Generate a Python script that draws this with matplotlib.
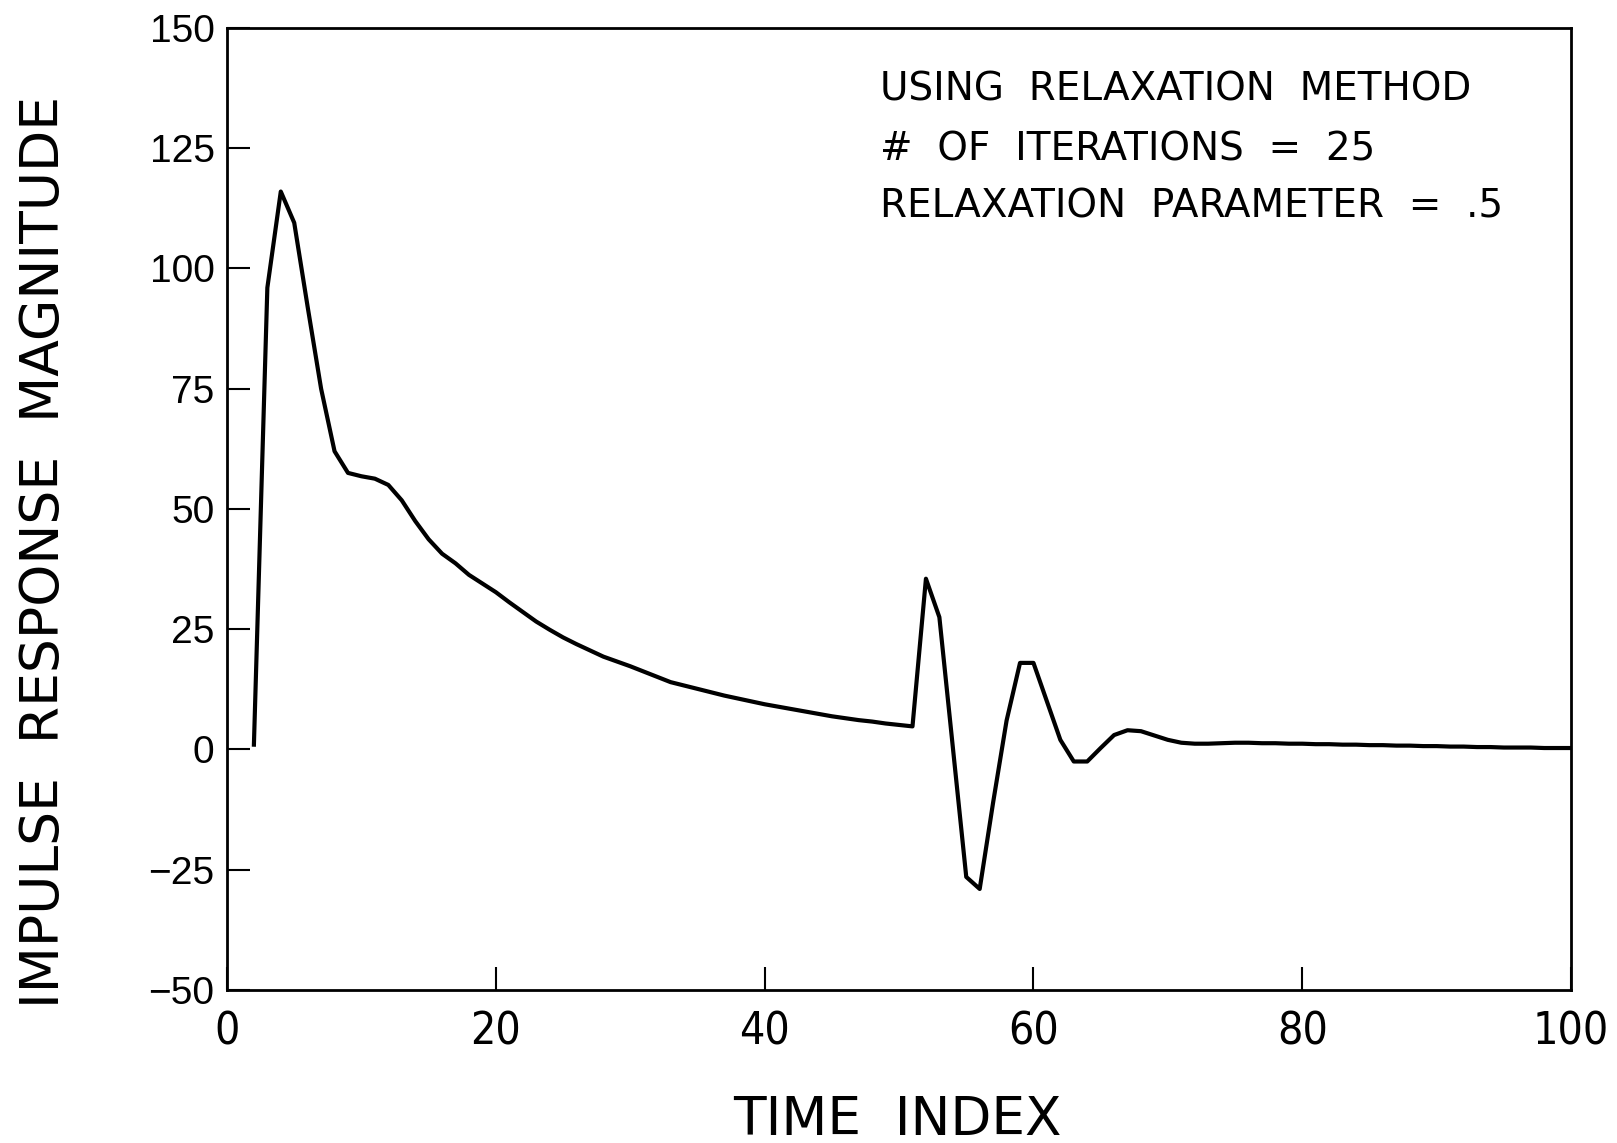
import matplotlib
matplotlib.use("Agg")
import matplotlib.pyplot as plt
from matplotlib import font_manager

# impulse response, one value per time index
time_index = list(range(2, 101))
magnitude = [
    1.0, 96, 116, 109.5, 92, 75, 62, 57.5, 56.8, 56.3,          # 2-11
    55, 51.8, 47.5, 43.7, 40.7, 38.7, 36.3, 34.5, 32.7, 30.6,   # 12-21
    28.6, 26.6, 24.9, 23.3, 21.9, 20.6, 19.3, 18.3, 17.3, 16.2, # 22-31
    15.1, 14.0, 13.3, 12.6, 11.9, 11.2, 10.6, 10.0, 9.4, 8.9,   # 32-41
    8.4, 7.9, 7.4, 6.9, 6.5, 6.1, 5.8, 5.4, 5.1, 4.8,           # 42-51
    35.5, 27.5, 0.5, -26.5, -29, -11, 6, 18, 18, 10,            # 52-61
    2, -2.5, -2.5, 0.3, 3, 4, 3.8, 2.9, 2.0, 1.4,               # 62-71
    1.2, 1.2, 1.3, 1.4, 1.4, 1.3, 1.3, 1.2, 1.2, 1.1,           # 72-81
    1.1, 1.0, 1.0, 0.9, 0.9, 0.8, 0.8, 0.7, 0.7, 0.6,           # 82-91
    0.6, 0.5, 0.5, 0.4, 0.4, 0.4, 0.3, 0.3, 0.3,                # 92-100
]

x_ticks = [0, 20, 40, 60, 80, 100]
y_ticks = [-50, -25, 0, 25, 50, 75, 100, 125, 150]
notes = [
    "USING  RELAXATION  METHOD",
    "#  OF  ITERATIONS  =  25",
    "RELAXATION  PARAMETER  =  .5",
]


def pick_narrow():
    for fam in ["Liberation Sans Narrow", "Arial Narrow"]:
        try:
            font_manager.findfont(fam, fallback_to_default=False)
            return dict(family=fam)
        except Exception:
            pass
    return dict(family="DejaVu Sans", stretch="condensed")


narrow = pick_narrow()
plain = dict(family="DejaVu Sans")
wide = dict(family=["Liberation Sans", "DejaVu Sans"])

fig = plt.figure(figsize=(16.17, 11.43), dpi=100)
ax = fig.add_axes([0.1404, 0.1339, 0.8312, 0.8416])

ax.plot(time_index, magnitude, color="black", lw=3.0,
        solid_joinstyle="round")

ax.set_xlim(0, 100)
ax.set_ylim(-50, 150)
for s in ax.spines.values():
    s.set_linewidth(2.0)

ax.set_xticks(x_ticks)
ax.set_yticks(y_ticks)
ax.tick_params(direction="in", length=16.5, width=1.5, top=False, right=False)
ax.tick_params(axis="x", pad=15)
ax.tick_params(axis="y", pad=9)
ax.set_xticklabels([str(v) for v in x_ticks], fontsize=32, **narrow)
ax.set_yticklabels([str(v).replace("-", "\u2212") for v in y_ticks],
                   fontsize=28, **wide)

ax.text(48.6, 135.0, notes[0], fontsize=28, va="baseline", **plain)
ax.text(48.6, 122.4, notes[1], fontsize=28, va="baseline", **plain)
ax.text(48.6, 110.5, notes[2], fontsize=28, va="baseline", **plain)

fig.text(0.0273, 0.517, "IMPULSE  RESPONSE  MAGNITUDE", rotation=90,
         ha="center", va="center", fontsize=38.5, **plain)
fig.text(0.555, 0.020, "TIME  INDEX", ha="center", va="center",
         fontsize=38.3, **plain)

fig.savefig("out.png", dpi=100)
